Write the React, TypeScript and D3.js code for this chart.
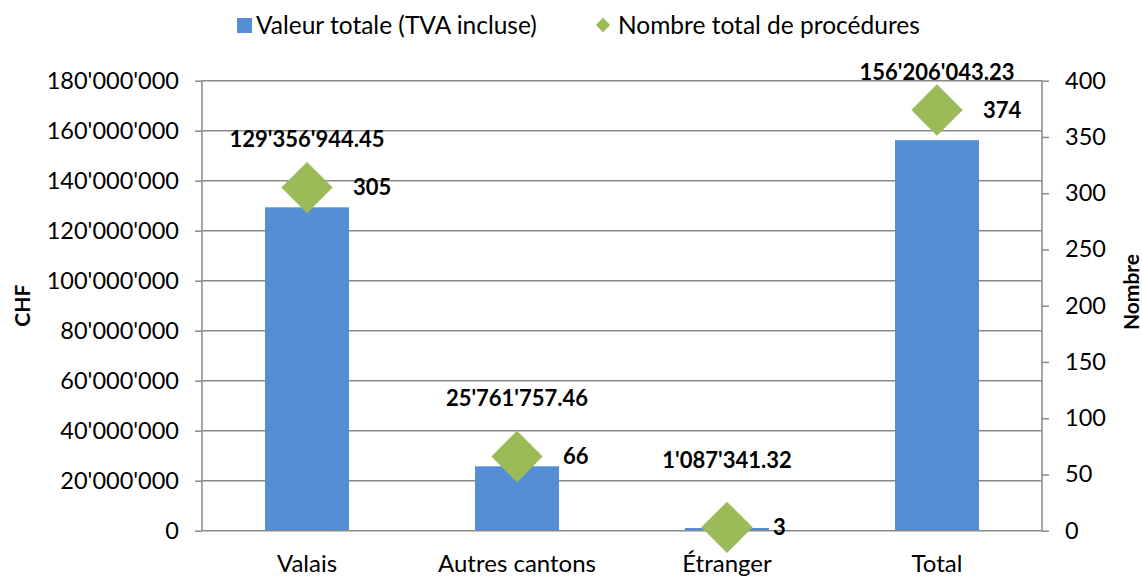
import { useEffect, useRef } from 'react';
import * as d3 from 'd3';

const categories = ['Valais', 'Autres cantons', 'Étranger', 'Total'];
const totalValues = [129356944.45, 25761757.46, 1087341.32, 156206043.23];
const procedureCounts = [305, 66, 3, 374];
const leftTicks = [0, 20000000, 40000000, 60000000, 80000000, 100000000, 120000000, 140000000, 160000000, 180000000];
const rightTicks = [0, 50, 100, 150, 200, 250, 300, 350, 400];

const BLUE = '#558ED5';
const GREEN = '#9BBB59';
const GRID = '#898989';
const FONT = 'Lato, "Open Sans", sans-serif';

const fmtThousands = (v: number) => d3.format(',')(v).replace(/,/g, "'");
const fmtMoney = (v: number) => d3.format(',.2f')(v).replace(/,/g, "'");

export default function App() {
    const svgRef = useRef<SVGSVGElement>(null);

    useEffect(() => {
        if (!svgRef.current) return;
        const svg = d3.select(svgRef.current);
        svg.selectAll('*').remove();

        const left = 202, right = 1042, top = 80.7, bottom = 530.7;

        const x = d3.scaleBand().domain(categories).range([left, right]).paddingInner(0.6).paddingOuter(0.3);
        const y = d3.scaleLinear().domain([0, 180000000]).range([bottom, top]);
        const y2 = d3.scaleLinear().domain([0, 400]).range([bottom, top]);

        // gridlines
        svg.append('g')
            .selectAll('line')
            .data(leftTicks.filter(t => t > 0))
            .enter()
            .append('line')
            .attr('x1', left).attr('x2', right)
            .attr('y1', d => y(d)).attr('y2', d => y(d))
            .attr('stroke', GRID).attr('stroke-width', 1.5);

        // left axis
        const gl = svg.append('g')
            .attr('transform', `translate(${left},0)`)
            .call(d3.axisLeft(y).tickValues(leftTicks).tickSize(7).tickPadding(16).tickFormat(d => fmtThousands(+d)));
        gl.select('.domain').attr('stroke', GRID).attr('stroke-width', 1.5).attr('d', `M0,${top}V${bottom}`);
        gl.selectAll('.tick line').attr('stroke', GRID).attr('stroke-width', 1.5);
        gl.selectAll('.tick text').style('font-family', FONT).style('font-size', '23.5px').attr('fill', '#000');

        // right axis
        const gr = svg.append('g')
            .attr('transform', `translate(${right},0)`)
            .call(d3.axisRight(y2).tickValues(rightTicks).tickSize(7).tickPadding(16));
        gr.select('.domain').attr('stroke', GRID).attr('stroke-width', 1.5).attr('d', `M0,${top}V${bottom}`);
        gr.selectAll('.tick line').attr('stroke', GRID).attr('stroke-width', 1.5);
        gr.selectAll('.tick text').style('font-family', FONT).style('font-size', '23.5px').attr('fill', '#000');

        // bars
        svg.append('g')
            .selectAll('rect')
            .data(categories)
            .enter()
            .append('rect')
            .attr('x', d => x(d) || 0)
            .attr('width', x.bandwidth())
            .attr('y', (_, i) => y(totalValues[i]))
            .attr('height', (_, i) => bottom - y(totalValues[i]))
            .attr('fill', BLUE);

        // bottom axis
        const gb = svg.append('g')
            .attr('transform', `translate(0,${bottom})`)
            .call(d3.axisBottom(x).tickSize(0).tickPadding(24));
        gb.select('.domain').attr('stroke', GRID).attr('stroke-width', 1.5).attr('d', `M${left},0H${right}`);
        gb.selectAll('.tick text').style('font-family', FONT).style('font-size', '24px').attr('fill', '#000');

        // bar labels
        svg.append('g')
            .selectAll('text')
            .data(categories)
            .enter()
            .append('text')
            .attr('x', d => (x(d) || 0) + x.bandwidth() / 2)
            .attr('y', (_, i) => y(totalValues[i]) - 60)
            .attr('text-anchor', 'middle')
            .style('font-family', FONT).style('font-size', '22px').style('font-weight', 'bold')
            .text((_, i) => fmtMoney(totalValues[i]));

        // diamonds
        const diamond = d3.symbol().type(d3.symbolDiamond2).size(1682);
        svg.append('g')
            .selectAll('path')
            .data(categories)
            .enter()
            .append('path')
            .attr('transform', (d, i) => `translate(${(x(d) || 0) + x.bandwidth() / 2},${y2(procedureCounts[i])})`)
            .attr('d', diamond)
            .attr('fill', GREEN);

        // count labels
        svg.append('g')
            .selectAll('text')
            .data(categories)
            .enter()
            .append('text')
            .attr('x', d => (x(d) || 0) + x.bandwidth() / 2 + 46)
            .attr('y', (_, i) => y2(procedureCounts[i]))
            .attr('dy', '0.35em')
            .style('font-family', FONT).style('font-size', '22px').style('font-weight', 'bold')
            .text((_, i) => procedureCounts[i]);

        // axis titles
        svg.append('text')
            .attr('transform', `translate(30,${(top + bottom) / 2}) rotate(-90)`)
            .attr('text-anchor', 'middle')
            .style('font-family', FONT).style('font-size', '21px').style('font-weight', 'bold')
            .text('CHF');
        svg.append('text')
            .attr('transform', `translate(1139,292) rotate(-90)`)
            .attr('text-anchor', 'middle')
            .style('font-family', FONT).style('font-size', '21px').style('font-weight', 'bold')
            .text('Nombre');

        // legend
        const lg = svg.append('g').style('font-family', FONT).style('font-size', '24.5px');
        lg.append('rect').attr('x', 237).attr('y', 18).attr('width', 15).attr('height', 15).attr('fill', BLUE);
        lg.append('text').attr('x', 256).attr('y', 25).attr('dy', '0.35em').text('Valeur totale (TVA incluse)');
        lg.append('path').attr('transform', 'translate(603,25)').attr('d', d3.symbol().type(d3.symbolDiamond2).size(130)).attr('fill', GREEN);
        lg.append('text').attr('x', 618).attr('y', 25).attr('dy', '0.35em').text('Nombre total de procédures');
    }, []);

    return (
        <svg
            ref={svgRef}
            width={1142}
            height={577}
            style={{ position: 'absolute', left: 0, top: 0, background: '#fff' }}
        />
    );
}
